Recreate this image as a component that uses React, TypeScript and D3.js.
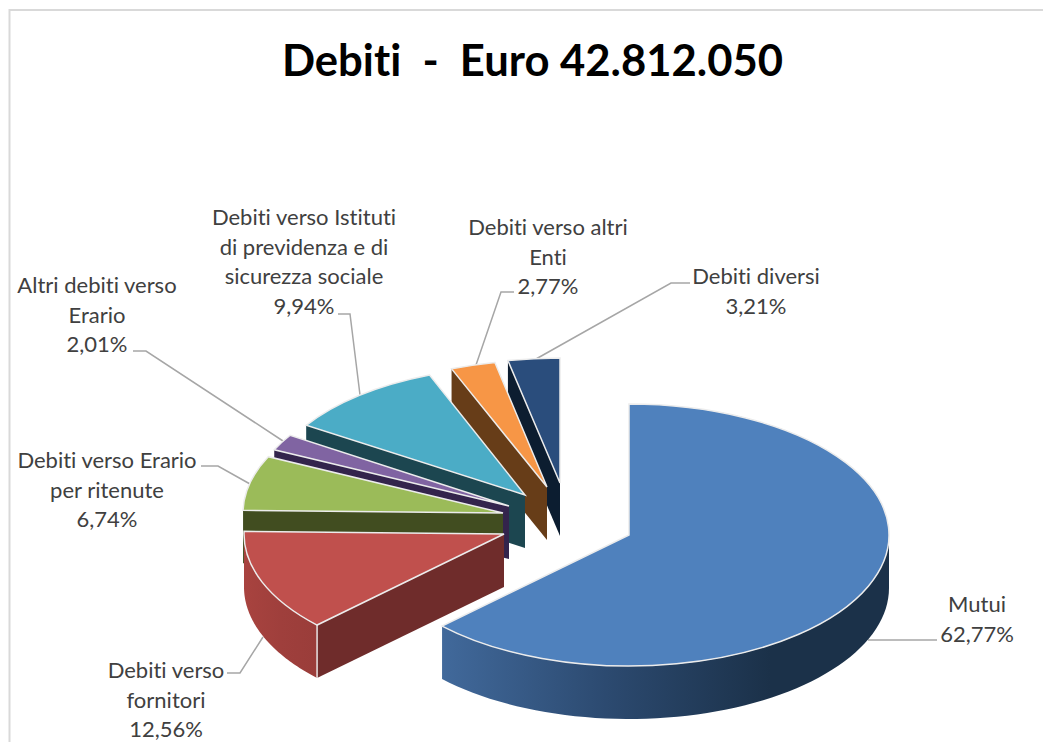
import React from "react";
import * as d3 from "d3";

const categories = ["Mutui", "Debiti verso fornitori", "Debiti verso Erario per ritenute", "Altri debiti verso Erario", "Debiti verso Istituti di previdenza e di sicurezza sociale", "Debiti verso altri Enti", "Debiti diversi"];
const values = [62.77, 12.56, 6.74, 2.01, 9.94, 2.77, 3.21];
const labelLines = [
  ["Mutui", "62,77%"],
  ["Debiti verso", "fornitori", "12,56%"],
  ["Debiti verso Erario", "per ritenute", "6,74%"],
  ["Altri debiti verso", "Erario", "2,01%"],
  ["Debiti verso Istituti", "di previdenza e di", "sicurezza sociale", "9,94%"],
  ["Debiti verso altri", "Enti", "2,77%"],
  ["Debiti diversi", "3,21%"],
];
const topColors = ["#4f81bd", "#c0504d", "#9bbb59", "#8064a2", "#4bacc6", "#f79646", "#2a4d7c"];
const cutColors = ["#203a5c", "#6f2c2b", "#414d20", "#33244c", "#1c4650", "#673d18", "#0c1d30"];
const wallStops = [
  ["#41699b", "#2c4a70", "#1b3149"],
  ["#a8433f", "#9f3f3c", "#9a3d3a"],
  ["#7f9a48", "#6f8a3f", "#5f7a35"],
  ["#5a4678", "#5a4678", "#5a4678"],
  ["#1c4650", "#1c4650", "#1c4650"],
  ["#673d18", "#673d18", "#673d18"],
  ["#0c1d30", "#0c1d30", "#0c1d30"],
];

// layout of each exploded slice
const centerX = [629, 504, 503, 509, 525, 547, 560];
const centerY = [535, 534, 513, 506, 495, 487, 483];
const radiusY = [131, 131, 131, 131, 129, 127, 125];
const radiusX = 260;
const depth = 53;
const labelX = [977, 166, 107, 97, 304, 548, 756];
const labelY = [612, 678, 468, 293, 225, 235, 284];
const lineStep = 29.7;
const leaders: [number, number][][] = [
  [[868, 640], [937, 640]],
  [[263, 637], [240, 673], [227, 673]],
  [[250, 484], [218, 466], [201, 466]],
  [[283, 441], [146, 351], [133, 351]],
  [[360, 395], [350, 314], [338, 314]],
  [[476, 365], [501, 292], [514, 292]],
  [[536, 359], [671, 283], [690, 283]],
];
const drawOrder = [6, 5, 4, 3, 2, 1, 0];

const pie = d3.pie<number>().sort(null).value((d) => d);
const arcs = pie(values);
const arcGen = d3.arc<any>().innerRadius(0).outerRadius(radiusX);
const lineGen = d3.line<[number, number]>();

function pt(i: number, a: number, dy = 0): [number, number] {
  return [centerX[i] + radiusX * Math.sin(a), centerY[i] - radiusY[i] * Math.cos(a) + dy];
}

function outerWall(i: number) {
  const a0 = Math.max(arcs[i].startAngle, Math.PI / 2);
  const a1 = Math.min(arcs[i].endAngle, (3 * Math.PI) / 2);
  if (a1 <= a0) return null;
  const angles = d3.range(0, 61).map((k) => a0 + ((a1 - a0) * k) / 60);
  const pts = [...angles.map((a) => pt(i, a)), ...angles.slice().reverse().map((a) => pt(i, a, depth))];
  return lineGen(pts) + "Z";
}

function cutWall(i: number) {
  const a = arcs[i].startAngle;
  const ap: [number, number] = [centerX[i], centerY[i]];
  return lineGen([ap, pt(i, a), pt(i, a, depth), [ap[0], ap[1] + depth]]) + "Z";
}

const noLig = { fontVariantLigatures: "none", fontFeatureSettings: '"liga" 0, "clig" 0' } as React.CSSProperties;

export default function App() {
  return (
    <svg width={1043} height={742} style={{ position: "absolute", left: 0, top: 0, display: "block", background: "#fff" }}>
      <defs>
        {categories.map((c, i) => {
          const a0 = Math.max(arcs[i].startAngle, Math.PI / 2);
          const a1 = Math.min(arcs[i].endAngle, (3 * Math.PI) / 2);
          const x0 = pt(i, Math.max(a0, a1))[0];
          const x1 = i === 0 ? centerX[0] + radiusX : pt(i, a0)[0];
          return (
            <linearGradient key={c} id={`wall${i}`} gradientUnits="userSpaceOnUse" x1={Math.min(x0, x1)} x2={i === 0 ? 770 : Math.max(x0, x1)} y1={0} y2={0}>
              {wallStops[i].map((s, k) => (
                <stop key={k} offset={k / 2} stopColor={s} />
              ))}
            </linearGradient>
          );
        })}
      </defs>
      <path d="M9.5,742V10H1043" fill="none" stroke="#d9d9d9" strokeWidth={2} />
      <text x={532.5} y={76} textAnchor="middle" fontFamily="Lato, 'Open Sans', sans-serif" fontWeight={700} fontSize={43.6} fill="#000" xmlSpace="preserve" style={noLig}>
        Debiti  -  Euro 42.812.050
      </text>
      {leaders.map((l, i) => (
        <path key={i} d={lineGen(l) || ""} fill="none" stroke="#a6a6a6" strokeWidth={1.5} />
      ))}
      {drawOrder.map((i) => {
        const wall = outerWall(i);
        return (
          <g key={categories[i]}>
            {i !== 0 && <path d={cutWall(i)} fill={cutColors[i]} />}
            {wall && <path d={wall} fill={`url(#wall${i})`} />}
            {i === 1 && (
              <line x1={pt(i, arcs[i].startAngle)[0]} x2={pt(i, arcs[i].startAngle)[0]} y1={pt(i, arcs[i].startAngle)[1]} y2={pt(i, arcs[i].startAngle, depth)[1]} stroke="#e8e4e4" strokeWidth={1.5} />
            )}
            <path
              d={arcGen(arcs[i]) || ""}
              transform={`translate(${centerX[i]},${centerY[i]}) scale(1,${radiusY[i] / radiusX})`}
              fill={topColors[i]}
              stroke="#ececec"
              strokeWidth={1.5}
              vectorEffect="non-scaling-stroke"
            />
          </g>
        );
      })}
      {labelLines.map((lines, i) =>
        lines.map((t, k) => (
          <text key={`${i}-${k}`} x={labelX[i]} y={labelY[i] + k * lineStep} textAnchor="middle" fontFamily="Lato, 'Open Sans', sans-serif" fontSize={22} fill="#404040" style={noLig}>
            {t}
          </text>
        ))
      )}
    </svg>
  );
}
